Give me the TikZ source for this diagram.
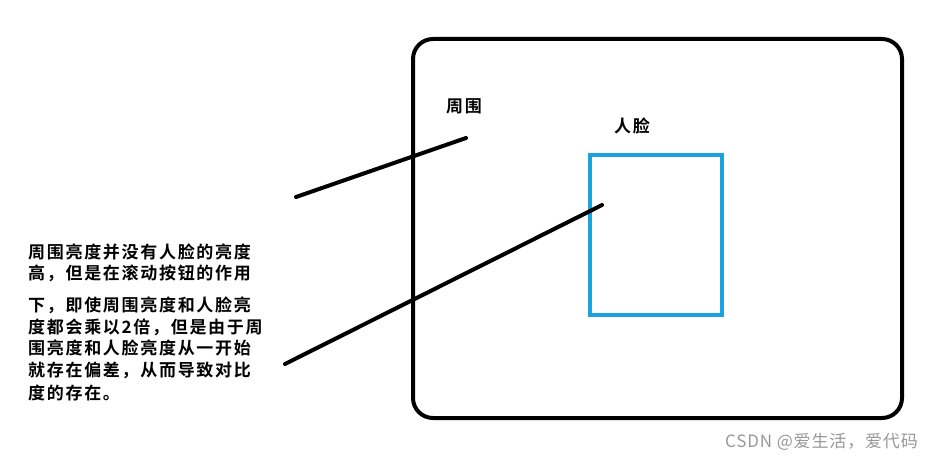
\documentclass[tikz,border=0pt]{standalone}
\usepackage{fontspec}
\newfontfamily\cjk[LetterSpace=10]{Noto Sans CJK SC Bold}
\newfontfamily\cjkn[LetterSpace=5]{Noto Sans CJK SC}
\definecolor{bl}{HTML}{1AA3E0}
\begin{document}
\begin{tikzpicture}[x=1pt,y=-1pt,
  lab/.style={font=\cjk\fontsize{17}{17}\selectfont,anchor=west,inner sep=0},
  ln/.style={line width=4pt,line cap=round}]
\useasboundingbox[fill=white] (0,0) rectangle (933,462);
\draw[line width=4pt,rounded corners=20] (413,39) rectangle (902,418);
\draw[bl,line width=4pt] (590,155) rectangle (722,315);
\coordinate (a1) at (296,197); \coordinate (a2) at (466,138);
\coordinate (b1) at (285,364); \coordinate (b2) at (602,205);
\draw[ln] (a1) -- (a2);
\draw[ln] (b1) -- (b2);
\node[lab] (t1) at (446,106) {周围};
\node[lab] (t2) at (614,126) {人脸};
\node[lab] (l1) at (28,252) {周围亮度并没有人脸的亮度};
\node[lab] (l2) at (28,273) {高，但是在滚动按钮的作用};
\node[lab] (l3) at (28,305) {下，即使周围亮度和人脸亮};
\node[lab] (l4) at (28,327) {度都会乘以2倍，但是由于周};
\node[lab] (l5) at (28,348) {围亮度和人脸亮度从一开始};
\node[lab] (l6) at (28,370) {就存在偏差，从而导致对比};
\node[lab] (l7) at (28,393) {度的存在。};
\node[font=\cjkn\fontsize{17}{17}\selectfont,text=gray!80,anchor=east,inner sep=0] (wm) at (918,442) {CSDN @爱生活，爱代码};
\end{tikzpicture}
\end{document}
